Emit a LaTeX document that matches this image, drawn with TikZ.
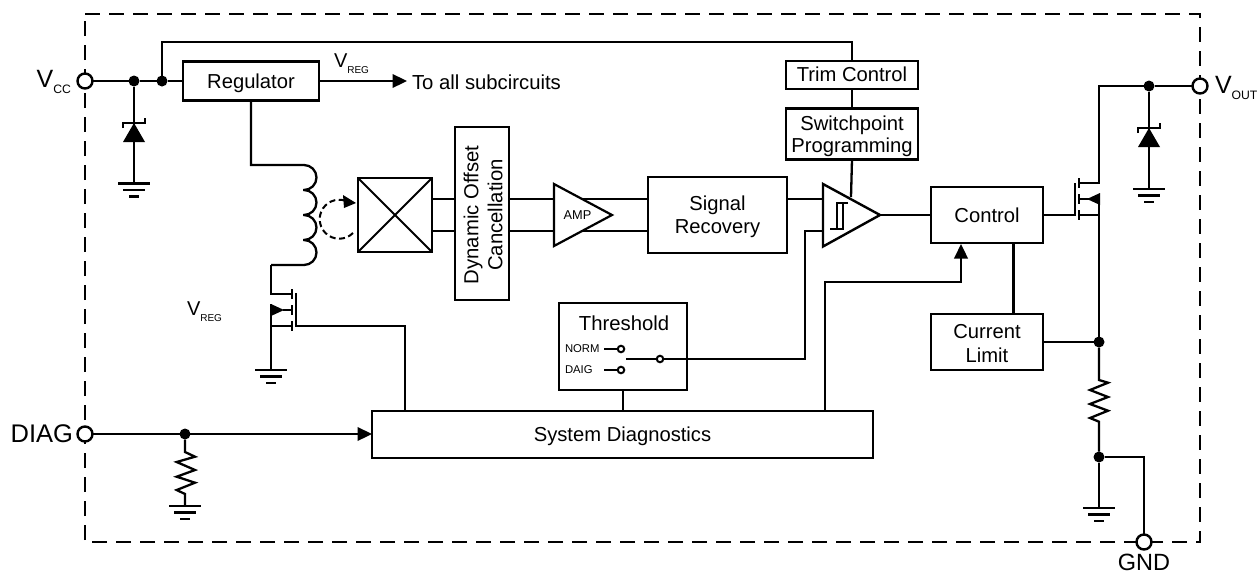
\documentclass[tikz,border=0pt]{standalone}
\usepackage{fontspec}
\setmainfont{Liberation Sans}
\usetikzlibrary{arrows.meta,calc}
\newcommand{\fs}[1]{\fontsize{#1}{#1}\selectfont}
\newcommand{\subV}[3]{\fs{#1}V\raisebox{-6pt}{\fs{#2}#3}}
\newcommand{\tb}[2]{\raisebox{#1}[0pt][0pt]{\begin{tabular}[t]{@{}c@{}}#2\end{tabular}}}
\tikzset{
  x=1pt,y=-1pt,
  wire/.style={line width=2.3pt,line join=miter},
  block/.style={draw,line width=2.6pt,rectangle,inner sep=0pt,outer sep=0pt,font=\fs{20.2}},
  lab/.style={inner sep=0pt,outer sep=0pt,font=\fs{20.3}},
  dot/.style={circle,fill=black,draw=none,minimum size=11pt,inner sep=0pt,outer sep=0pt},
  pin/.style={circle,fill=white,draw,line width=2.4pt,minimum size=15pt,inner sep=0pt,outer sep=0pt},
  smallpin/.style={circle,fill=white,draw,line width=2pt,minimum size=6.5pt,inner sep=0pt,outer sep=0pt},
  tip/.style={-{Triangle[length=14.5pt,width=13.5pt]}},
  pics/gnd/.style={code={
    \draw[wire] (-16,0) -- (16,0) (-11,6.5) -- (11,6.5) (-5,13) -- (5,13);
  }},
  pics/zener/.style={code={
    \fill (0,0) -- (11,19) -- (-11,19) -- cycle;
    \draw[line width=2pt] (-11,5) -- (-11,0) -- (11,0) -- (11,-5);
  }},
}
\begin{document}
\begin{tikzpicture}
\useasboundingbox (0,0) rectangle (1260,573);
% package outline
\draw[line width=2.4pt,dash pattern=on 15pt off 9pt] (85,14) -- (1200,14) -- (1200,542) -- (85,542) -- cycle;

% blocks
\node[block,minimum width=136pt,minimum height=39pt] (reg) at (251,81) {\tb{-7.7pt}{Regulator}};
\node[block,minimum width=132pt,minimum height=28pt] (trim) at (852,75) {\tb{-6.7pt}{Trim Control}};
\node[block,minimum width=132pt,minimum height=51pt] (sw) at (852,134) {\tb{4pt}{Switchpoint\\[1.5pt]Programming}};
\node[block,minimum width=74pt,minimum height=74pt] (hall) at (395,215) {};
\node[block,minimum width=54pt,minimum height=173pt] (doc) at (482,213.5) {};
\node[lab,rotate=90] (doct) at (482,215) {\tb{3.7pt}{Dynamic Offset\\[3.2pt]Cancellation}};
\node[block,minimum width=139pt,minimum height=76pt] (sr) at (717.5,215) {\tb{4.3pt}{Signal\\[2.4pt]Recovery}};
\node[block,minimum width=112pt,minimum height=56pt] (ctl) at (987,215) {\tb{-7.3pt}{Control}};
\node[block,minimum width=112pt,minimum height=56pt] (cl) at (987,342) {\tb{3.7pt}{Current\\[3pt]Limit}};
\node[block,minimum width=128pt,minimum height=87pt] (th) at (623,346.5) {};
\node[block,minimum width=501pt,minimum height=47pt] (sd) at (622.5,434.5) {\tb{-7pt}{System Diagnostics}};
\node[lab] (tht) at (624,323) {Threshold};

% pins and junctions
\node[pin] (vcc) at (85,81) {};
\node[pin] (diag) at (85,434) {};
\node[pin] (vout) at (1200,86) {};
\node[pin] (gnd) at (1144,542) {};
\node[dot] (j1) at (134,81) {};
\node[dot] (j2) at (162,81) {};
\node[dot] (j3) at (185,434) {};
\node[dot] (j4) at (1149,86) {};
\node[dot] (j5) at (1099,342) {};
\node[dot] (j6) at (1099,457) {};
\coordinate (g1) at (134,183.5);
\coordinate (g2) at (271,370);
\coordinate (g3) at (185,506);
\coordinate (g4) at (1149,189);
\coordinate (g5) at (1099,508);
\coordinate (toall) at (407,81);

% labels
\node[lab,anchor=east] (lvcc) at (71,82) {\subV{25}{12.2}{CC}};
\node[lab,anchor=east] (ldiag) at (73,434) {\fs{25.5}DIAG};
\node[lab,anchor=west] (lvout) at (1215,88) {\subV{25}{12.2}{OUT}};
\node[lab] (lgnd) at (1144,562) {\fs{23.5}GND};
\node[lab,anchor=west] (lto) at (412,82) {To all subcircuits};
\node[lab,anchor=west] (lv1) at (334,64) {\subV{20}{10}{REG}};
\node[lab,anchor=west] (lv2) at (187,312) {\subV{20}{10}{REG}};
\node[lab,font=\fs{11.3},anchor=west] (lnorm) at (565,349) {NORM};
\node[lab,font=\fs{11.3},anchor=west] (ldaig) at (565,370) {DAIG};

% supply wiring
\draw[wire] (vcc) -- (j1) -- (j2) -- (reg.west);
\draw[wire] (j2) -- (162,42) -| (trim.north);
\draw[wire,tip] (reg.east) -- (toall);
\draw[wire] (j1) -- (g1);
\path (134,123) pic {zener};
\path (g1) pic {gnd};

% coil
\coordinate (co) at (271,265);
\draw[wire] (reg.south) -- (251,165) -- (304,165)
  arc[start angle=-90,end angle=90,radius=12.5] -- (303,190) -- (304,190)
  arc[start angle=-90,end angle=90,radius=12.5] -- (303,215) -- (304,215)
  arc[start angle=-90,end angle=90,radius=12.5] -- (303,240) -- (304,240)
  arc[start angle=-90,end angle=90,radius=12.5] -- (271,265);
\draw[line width=2pt,dash pattern=on 6pt off 3.5pt] (353,233) arc[start angle=45,end angle=308,radius=19.5];
\fill (356,203) -- (343,195) -- (344,208) -- cycle;

% left MOSFET
\coordinate (qd) at (292,294);
\coordinate (qs) at (292,326);
\coordinate (qb) at (283,310);
\draw[wire] (co) -- (271,294) -- (qd);
\draw[wire] (271,304) -- (g2);
\draw[wire] (271,326) -- (qs);
\draw[wire] (qb) -- (292,310);
\fill (271,304) -- (284,310) -- (271,316) -- cycle;
\draw[line width=2pt] (292,289) -- (292,299) (292,305) -- (292,315) (292,321) -- (292,331);
\draw[line width=2pt] (295.5,293) -- (295.5,327);
\draw[wire] (295.5,326) -- (405,326) -- (405,411);
\path (g2) pic {gnd};

% signal path
\draw[wire] (432,199) -- (455,199) (432,231) -- (455,231);
\draw[line width=2pt] (hall.north west) -- (hall.south east) (hall.north east) -- (hall.south west);
\draw[wire] (509,199) -- (554,199) (509,231) -- (554,231);
\draw[wire] (582,199) -- (648,199) (582,231) -- (648,231);
\draw[line width=2.2pt,fill=white] (554,184) -- (612,215) -- (554,246) -- cycle;
\node[lab,font=\fs{12.8}] (amp) at (577.5,215) {AMP};

% comparator
\coordinate (cp) at (880,215);
\draw[wire] (787,199) -- (823,199);
\draw[wire] (sw.south) -- (851,197);
\draw[line width=2.4pt,fill=white] (823,184) -- (cp) -- (823,246.5) -- cycle;
\draw[line width=2pt] (830,228.5) -- (843,228.5) -- (843,203) -- (848,203) (848,203) -- (837,203) -- (837,228.5);
\draw[wire] (cp) -- (ctl.west);
\draw[wire] (trim.south) -- (sw.north);

% threshold
\node[smallpin] (pn) at (621,349) {};
\node[smallpin] (pd) at (621,370) {};
\node[smallpin] (po) at (660,359) {};
\draw[wire] (604,349) -- (pn);
\draw[wire] (604,370) -- (pd);
\coordinate (ts) at (626,359);
\draw[wire] (ts) -- (po);
\draw[wire] (po) -- (805,359) -- (805,231) -- (823,231);
\draw[wire] (th.south) -- (623,411);

% diagnostics
\draw[wire,tip] (diag) -- (sd.west |- diag);
\draw[wire] (j3) -- (185,452) -- (195,456.7) -- (176.7,462) -- (195,470) -- (176.7,476.7) -- (195,482.7) -- (176.7,490) -- (185,494) -- (g3);
\path (g3) pic {gnd};
\draw[wire,tip] (825,411) -- (825,282) -- (961,282) -- (961,244);

% right side
\draw[wire] (1013.5,243) -- (1013.5,314);
\draw[wire] (cl.east |- j5) -- (j5);
\draw[wire] (ctl.east) -- (1075,215);
\draw[line width=2pt] (1075,183) -- (1075,215.5);
\draw[line width=2pt] (1079,178) -- (1079,188) (1079,194) -- (1079,204) (1079,210) -- (1079,220);
\draw[wire] (1079,183) -- (1099,183) -- (1099,86) -- (j4) -- (vout);
\draw[wire] (1079,199) -- (1090,199);
\fill (1087,199) -- (1100,193) -- (1100,205) -- cycle;
\draw[wire] (1079,215) -- (1099,215);
\draw[wire] (1099,198) -- (j5);
\draw[wire] (j5) -- (1099,380) -- (1108,382.7) -- (1090,390) -- (1108,397) -- (1090,404) -- (1108,410.7) -- (1090,418) -- (1099,421.7) -- (j6);
\draw[wire] (j6) -- (g5);
\path (g5) pic {gnd};
\draw[wire] (j6) -- (1144,457) -- (gnd);
\draw[wire] (j4) -- (g4);
\path (1149,128) pic {zener};
\path (g4) pic {gnd};
\end{tikzpicture}
\end{document}
